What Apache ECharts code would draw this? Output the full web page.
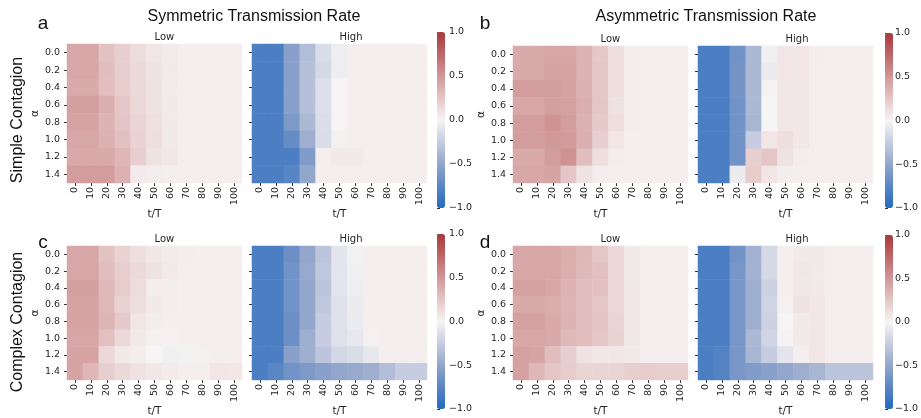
<!DOCTYPE html>
<html>
<head>
<meta charset="utf-8">
<script src="https://cdn.jsdelivr.net/npm/echarts@6/dist/echarts.min.js"></script>
<style>html,body{margin:0;padding:0;background:#fff}#c{width:921px;height:418px}</style>
</head>
<body>
<div id="c"></div>
<script>
// ---- categories / tick labels ----
const tLabels = ['0','10','20','30','40','50','60','70','80','90','100'];
const alphaLabels = ['0.0','0.2','0.4','0.6','0.8','1.0','1.2','1.4'];
const cbTicks = [-1, -0.5, 0, 0.5, 1];

// ---- values: rows = alpha (0.0..1.4), columns = t/T (0..100) ----
const simpleSymLow = [
  [0.42,0.42,0.27,0.20,0.13,0.08,0.05,0.03,0.03,0.03,0.03],
  [0.42,0.42,0.30,0.20,0.14,0.09,0.06,0.03,0.03,0.03,0.03],
  [0.40,0.40,0.29,0.21,0.14,0.10,0.05,0.03,0.03,0.03,0.03],
  [0.46,0.46,0.37,0.25,0.15,0.10,0.06,0.03,0.03,0.03,0.03],
  [0.44,0.44,0.35,0.26,0.17,0.11,0.06,0.03,0.03,0.03,0.03],
  [0.42,0.42,0.36,0.28,0.18,0.12,0.06,0.03,0.03,0.03,0.03],
  [0.40,0.40,0.40,0.33,0.20,0.10,0.07,0.03,0.03,0.03,0.03],
  [0.47,0.47,0.47,0.36,0.05,0.04,0.03,0.03,0.03,0.03,0.03]
];
const simpleSymHigh = [
  [-0.82,-0.82,-0.55,-0.35,-0.15,-0.04,0.03,0.03,0.03,0.03,0.03],
  [-0.82,-0.82,-0.55,-0.33,-0.17,-0.04,0.03,0.03,0.03,0.03,0.03],
  [-0.82,-0.82,-0.55,-0.33,-0.13,0.00,0.03,0.03,0.03,0.03,0.03],
  [-0.82,-0.82,-0.55,-0.33,-0.13,0.00,0.03,0.03,0.03,0.03,0.03],
  [-0.82,-0.82,-0.60,-0.38,-0.14,0.00,0.03,0.03,0.03,0.03,0.03],
  [-0.82,-0.82,-0.70,-0.45,-0.15,0.02,0.03,0.03,0.03,0.03,0.03],
  [-0.82,-0.82,-0.82,-0.58,0.03,0.06,0.06,0.03,0.03,0.03,0.03],
  [-0.82,-0.82,-0.76,-0.50,0.03,0.03,0.03,0.03,0.03,0.03,0.03]
];
const simpleAsymLow = [
  [0.40,0.40,0.42,0.42,0.35,0.24,0.12,0.04,0.03,0.03,0.03],
  [0.40,0.40,0.44,0.44,0.35,0.25,0.12,0.04,0.03,0.03,0.03],
  [0.47,0.47,0.47,0.45,0.36,0.25,0.12,0.04,0.03,0.03,0.03],
  [0.42,0.42,0.46,0.45,0.37,0.25,0.10,0.04,0.03,0.03,0.03],
  [0.47,0.47,0.52,0.47,0.36,0.23,0.12,0.04,0.03,0.03,0.03],
  [0.47,0.47,0.49,0.48,0.37,0.20,0.08,0.03,0.03,0.03,0.03],
  [0.40,0.40,0.47,0.52,0.30,0.12,0.04,0.03,0.03,0.03,0.03],
  [0.42,0.42,0.43,0.25,0.10,0.04,0.03,0.03,0.03,0.03,0.03]
];
const simpleAsymHigh = [
  [-0.82,-0.82,-0.65,-0.38,-0.03,0.08,0.08,0.04,0.03,0.03,0.03],
  [-0.82,-0.82,-0.63,-0.38,-0.05,0.08,0.08,0.03,0.03,0.03,0.03],
  [-0.82,-0.82,-0.63,-0.38,-0.01,0.07,0.07,0.03,0.03,0.03,0.03],
  [-0.82,-0.82,-0.65,-0.38,0.00,0.08,0.07,0.03,0.03,0.03,0.03],
  [-0.82,-0.82,-0.65,-0.40,0.00,0.08,0.07,0.03,0.03,0.03,0.03],
  [-0.82,-0.82,-0.65,-0.25,0.08,0.12,0.07,0.03,0.03,0.03,0.03],
  [-0.82,-0.82,-0.65,0.20,0.25,0.10,0.04,0.03,0.03,0.03,0.03],
  [-0.82,-0.82,-0.05,0.22,0.08,0.04,0.03,0.03,0.03,0.03,0.03]
];
const complexSymLow = [
  [0.42,0.42,0.27,0.18,0.12,0.07,0.05,0.04,0.03,0.03,0.03],
  [0.42,0.42,0.30,0.20,0.14,0.10,0.06,0.03,0.03,0.03,0.03],
  [0.46,0.46,0.32,0.22,0.13,0.04,0.04,0.03,0.03,0.03,0.03],
  [0.43,0.43,0.32,0.18,0.12,0.06,0.04,0.03,0.03,0.03,0.03],
  [0.44,0.44,0.34,0.23,0.08,0.04,0.03,0.03,0.03,0.03,0.03],
  [0.42,0.42,0.28,0.15,0.06,0.02,0.02,0.03,0.03,0.03,0.03],
  [0.43,0.43,0.15,0.06,0.04,0.00,-0.03,-0.02,0.02,0.03,0.03],
  [0.43,0.33,0.20,0.14,0.10,0.07,0.05,0.03,0.03,0.08,0.07]
];
const complexSymHigh = [
  [-0.82,-0.82,-0.67,-0.50,-0.30,-0.10,-0.02,0.03,0.03,0.03,0.03],
  [-0.82,-0.82,-0.65,-0.48,-0.28,-0.10,-0.03,0.03,0.03,0.03,0.03],
  [-0.82,-0.82,-0.65,-0.50,-0.30,-0.10,-0.04,0.03,0.03,0.03,0.03],
  [-0.82,-0.82,-0.65,-0.50,-0.28,-0.12,-0.05,0.03,0.03,0.03,0.03],
  [-0.82,-0.82,-0.67,-0.50,-0.25,-0.12,-0.06,0.03,0.03,0.03,0.03],
  [-0.82,-0.82,-0.67,-0.45,-0.25,-0.12,-0.08,0.02,0.03,0.03,0.03],
  [-0.82,-0.82,-0.55,-0.45,-0.30,-0.18,-0.15,-0.08,0.03,0.03,0.03],
  [-0.82,-0.75,-0.65,-0.60,-0.55,-0.50,-0.48,-0.45,-0.35,-0.25,-0.25]
];
const complexAsymLow = [
  [0.42,0.42,0.42,0.38,0.33,0.25,0.15,0.06,0.03,0.03,0.03],
  [0.42,0.42,0.42,0.37,0.32,0.28,0.15,0.06,0.03,0.03,0.03],
  [0.45,0.45,0.42,0.35,0.30,0.28,0.15,0.07,0.03,0.03,0.03],
  [0.40,0.40,0.38,0.34,0.30,0.25,0.15,0.07,0.03,0.03,0.03],
  [0.45,0.45,0.40,0.35,0.30,0.26,0.17,0.07,0.03,0.03,0.03],
  [0.42,0.42,0.40,0.32,0.30,0.25,0.18,0.07,0.03,0.03,0.03],
  [0.45,0.43,0.30,0.20,0.10,0.07,0.07,0.06,0.03,0.03,0.03],
  [0.45,0.33,0.25,0.22,0.17,0.17,0.17,0.20,0.22,0.20,0.20]
];
const complexAsymHigh = [
  [-0.82,-0.82,-0.65,-0.42,-0.17,0.03,0.06,0.06,0.03,0.03,0.03],
  [-0.82,-0.82,-0.62,-0.42,-0.17,0.03,0.07,0.06,0.03,0.03,0.03],
  [-0.82,-0.82,-0.62,-0.45,-0.22,0.03,0.07,0.06,0.03,0.03,0.03],
  [-0.82,-0.82,-0.62,-0.45,-0.20,0.02,0.10,0.07,0.03,0.03,0.03],
  [-0.82,-0.82,-0.62,-0.45,-0.22,0.00,0.06,0.07,0.03,0.03,0.03],
  [-0.82,-0.82,-0.62,-0.38,-0.20,-0.01,0.06,0.08,0.03,0.03,0.03],
  [-0.82,-0.78,-0.62,-0.40,-0.25,-0.10,0.03,0.08,0.03,0.03,0.03],
  [-0.82,-0.78,-0.62,-0.58,-0.55,-0.50,-0.45,-0.40,-0.30,-0.30,-0.30]
];

// ---- layout ----
const vlag = ['#2369bd','#5a86c4','#93a6cb','#c6cde0','#f6f4f4','#e5c6c6','#d19797','#bd6769','#a9373b'];
const panels = [
  {low: simpleSymLow, high: simpleSymHigh, gl:[67,44,175,139], gh:[252,44,175,139], cb:[437,32,8,176]},
  {low: simpleAsymLow, high: simpleAsymHigh, gl:[513,46,175,137], gh:[698,46,175,137], cb:[885,33,8,175]},
  {low: complexSymLow, high: complexSymHigh, gl:[67,246,175,138], gh:[252,246,175,138], cb:[437,234,8,175]},
  {low: complexAsymLow, high: complexAsymHigh, gl:[513,246,175,138], gh:[698,246,175,138], cb:[885,235,8,174]}
];
const FONT = 'DejaVu Sans';
const TXT = '#262626';

const grid = [], xAxis = [], yAxis = [], series = [], visualMap = [], graphic = [];

function toData(m){
  const out = [];
  m.forEach((row, yi) => row.forEach((v, xi) => out.push([xi, yi, v])));
  return out;
}

panels.forEach((p, pi) => {
  const si0 = series.length;
  [[p.low, p.gl, true], [p.high, p.gh, false]].forEach(([m, g, showY]) => {
    const gi = grid.length;
    grid.push({left: g[0], top: g[1], width: g[2], height: g[3], containLabel: false});
    xAxis.push({
      type: 'category', data: tLabels, gridIndex: gi, position: 'bottom',
      axisLine: {show: false},
      axisTick: {show: true, alignWithLabel: true, length: 3, lineStyle: {color: '#333', width: 1}},
      axisLabel: {rotate: 90, fontSize: 9.5, fontFamily: FONT, color: TXT, margin: 4, interval: 0},
      name: 't/T', nameLocation: 'middle', nameGap: 25,
      nameTextStyle: {fontSize: 10.5, fontFamily: FONT, color: TXT},
      splitLine: {show: false}
    });
    yAxis.push({
      type: 'category', data: alphaLabels, gridIndex: gi, inverse: true,
      axisLine: {show: false},
      axisTick: {show: true, alignWithLabel: true, length: 3, lineStyle: {color: '#333', width: 1}},
      axisLabel: {show: showY, fontSize: 9.5, fontFamily: FONT, color: TXT, margin: 7, interval: 0},
      name: showY ? 'α' : '', nameLocation: 'middle', nameGap: 22, nameRotate: 90,
      nameTextStyle: {fontSize: 10.5, fontFamily: FONT, color: TXT},
      splitLine: {show: false}
    });
    series.push({
      type: 'heatmap', xAxisIndex: gi, yAxisIndex: gi, data: toData(m),
      itemStyle: {borderWidth: 0}, progressive: 0, animation: false,
      emphasis: {disabled: true}
    });
    graphic.push({type: 'text', left: g[0] + g[2] / 2, top: g[1] - 12,
      style: {text: showY ? 'Low' : 'High', font: '10px "DejaVu Sans"', fill: TXT, textAlign: 'center', textVerticalAlign: 'middle'}});
  });
  // colorbar
  const cb = p.cb;
  visualMap.push({
    type: 'continuous', min: -1, max: 1, seriesIndex: [si0, si0 + 1],
    calculable: false, realtime: false, hoverLink: false,
    orient: 'vertical', left: cb[0], top: cb[1], itemWidth: cb[2], itemHeight: cb[3],
    padding: 0, text: null, showLabel: false,
    inRange: {color: vlag}
  });
  const gi = grid.length;
  grid.push({left: cb[0], top: cb[1], width: cb[2], height: cb[3], containLabel: false});
  xAxis.push({type: 'value', gridIndex: gi, show: false, min: 0, max: 1});
  yAxis.push({
    type: 'value', gridIndex: gi, min: -1, max: 1, interval: 0.5, position: 'right',
    axisLine: {show: false},
    axisTick: {show: true, length: 3, lineStyle: {color: '#333'}},
    splitLine: {show: false},
    axisLabel: {fontSize: 9.5, fontFamily: FONT, color: TXT, margin: 4,
      formatter: v => (v < 0 ? '\u2212' : '') + Math.abs(v).toFixed(1)}
  });
});

// titles and labels
const big = '16px "Liberation Sans", Arial, sans-serif';
graphic.push(
  {type: 'text', x: 254, y: 17, style: {text: 'Symmetric Transmission Rate', font: big, fill: '#111', textAlign: 'center', textVerticalAlign: 'middle'}},
  {type: 'text', x: 706, y: 17, style: {text: 'Asymmetric Transmission Rate', font: big, fill: '#111', textAlign: 'center', textVerticalAlign: 'middle'}},
  {type: 'text', x: 43, y: 24, style: {text: 'a', font: '19px "Liberation Sans", Arial', fill: '#111', textAlign: 'center', textVerticalAlign: 'middle'}},
  {type: 'text', x: 485, y: 24, style: {text: 'b', font: '19px "Liberation Sans", Arial', fill: '#111', textAlign: 'center', textVerticalAlign: 'middle'}},
  {type: 'text', x: 43, y: 243, style: {text: 'c', font: '19px "Liberation Sans", Arial', fill: '#111', textAlign: 'center', textVerticalAlign: 'middle'}},
  {type: 'text', x: 485, y: 243, style: {text: 'd', font: '19px "Liberation Sans", Arial', fill: '#111', textAlign: 'center', textVerticalAlign: 'middle'}},
  {type: 'text', x: 18, y: 120, rotation: Math.PI / 2, style: {text: 'Simple Contagion', font: big, fill: '#111', textAlign: 'center', textVerticalAlign: 'middle'}},
  {type: 'text', x: 18, y: 322, rotation: Math.PI / 2, style: {text: 'Complex Contagion', font: big, fill: '#111', textAlign: 'center', textVerticalAlign: 'middle'}}
);

const chart = echarts.init(document.getElementById('c'), null, {renderer: 'canvas'});
chart.setOption({animation: false, backgroundColor: '#fff', grid, xAxis, yAxis, series, visualMap, graphic});
</script>
</body>
</html>
